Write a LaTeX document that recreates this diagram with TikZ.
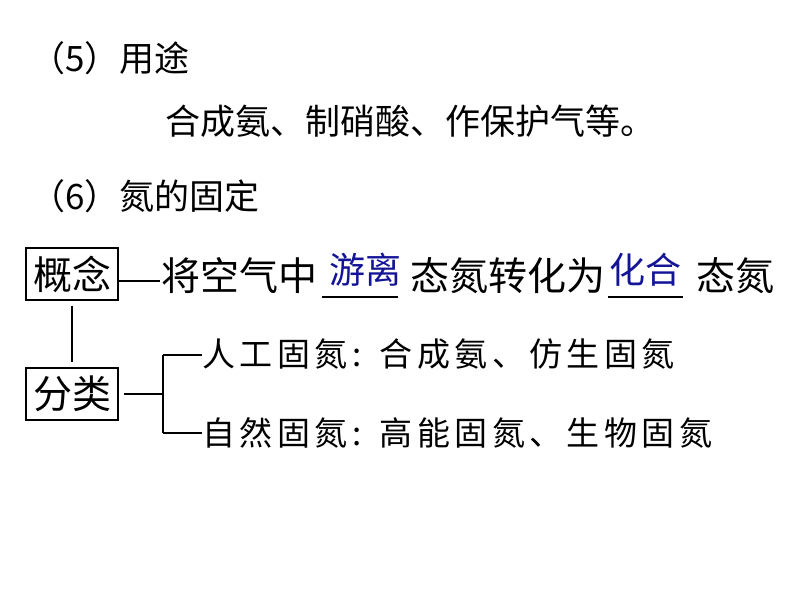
\documentclass[tikz,border=0pt]{standalone}
\usepackage{fontspec}
\setmainfont{Noto Sans CJK SC}
\newfontfamily\cjkls[LetterSpace=13.5]{Noto Sans CJK SC}
\definecolor{fillblue}{RGB}{20,20,150}
\begin{document}
\begin{tikzpicture}[x=1pt,y=-1pt,
  head/.style={anchor=base west, inner sep=0pt, font=\fontsize{35}{35}\selectfont},
  rowtext/.style={anchor=base west, inner sep=0pt, font=\fontsize{39}{39}\selectfont},
  framebox/.style={draw, line width=1.2pt, minimum width=92pt, minimum height=52pt, inner sep=0pt, font=\fontsize{39}{39}\selectfont},
  answer/.style={text=fillblue, inner sep=0pt, font=\fontsize{36}{36}\selectfont},
  subtext/.style={anchor=base west, inner sep=0pt, font=\cjkls\fontsize{33}{33}\selectfont},
  link/.style={line width=1.2pt}]
\fill[white] (0,0) rectangle (794,596);
\useasboundingbox (0,0) rectangle (794,596);

\node[head] (h5) at (30,72) {（5）用途};
\node[head] (use) at (165,135) {合成氨、制硝酸、作保护气等。};
\node[head] (h6) at (30,209) {（6）氮的固定};

\node[framebox] (kn) at (72,274) {概念};
\node[rowtext] (c1) at (161,290) {将空气中};
\coordinate (dsh) at (160,281);
\draw[link] (kn.east |- dsh) -- (dsh);
\node[answer] (a1) at (365,270) {游离};
\node[rowtext] (c2) at (410,290) {态氮转化为};
\node[answer] (a2) at (645,270) {化合};
\node[rowtext] (c3) at (696,290) {态氮};
\draw[link] (322,297) -- (398,297);
\draw[link] (608,297) -- (683,297);

\node[framebox] (fl) at (72,394) {分类};
\draw[link, shorten <=5pt, shorten >=5pt] (kn.south) -- (fl.north);

\node[subtext] (s1) at (202,366) {人工固氮\hspace{5pt}:\hspace{18pt}合成氨、仿生固氮};
\node[subtext] (s2) at (202,445) {自然固氮\hspace{5pt}:\hspace{18pt}高能固氮、生物固氮};

\coordinate (br) at (163,394);
\coordinate (bt) at (163,355);
\coordinate (bb) at (163,433);
\draw[link] ([xshift=5pt]fl.east) -- (br);
\draw[link] (bt) -- (bb);
\draw[link] (bt) -- (bt -| s1.west);
\draw[link] (bb) -- (bb -| s2.west);
\end{tikzpicture}
\end{document}
